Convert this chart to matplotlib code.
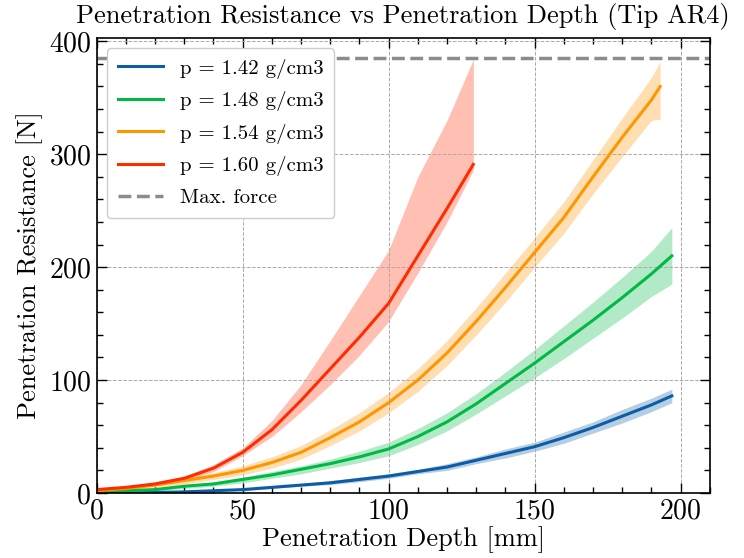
import matplotlib
matplotlib.use("Agg")
import matplotlib.pyplot as plt

# depth [mm] and resistance [N]
depth_142 = [0, 10, 20, 30, 40, 50, 60, 70, 80, 90, 100, 110, 120, 130, 140, 150, 160, 170, 180, 190, 197]
mean_142 = [0, 0, 0.5, 1, 2, 3, 5, 7, 9, 12, 15, 19, 23, 29, 35, 41, 49, 58, 68, 78, 86]
upper_142 = [0.5, 0.5, 1, 1.5, 2.5, 4, 6, 8, 11, 14, 17, 21, 26, 32, 39, 45, 54, 63, 74, 84, 92]
lower_142 = [0, 0, 0, 0.5, 1.5, 2, 4, 6, 7.5, 10, 13, 17, 20, 26, 31, 37, 44, 53, 62, 72, 80]

depth_148 = [0, 10, 20, 30, 40, 50, 60, 70, 80, 90, 100, 110, 120, 130, 140, 150, 160, 170, 180, 190, 197]
mean_148 = [1, 2, 3, 6, 8, 12, 16, 21, 26, 32, 39, 50, 63, 79, 97, 115, 134, 153, 173, 194, 210]
upper_148 = [2, 3, 4, 7, 10, 14, 19, 24, 30, 37, 45, 57, 71, 88, 107, 127, 148, 169, 191, 214, 235]
lower_148 = [0, 1, 2, 4, 6, 9, 13, 17, 22, 27, 33, 43, 55, 70, 86, 102, 119, 137, 155, 174, 185]

depth_154 = [0, 10, 20, 30, 40, 50, 60, 70, 80, 90, 100, 110, 120, 130, 140, 150, 160, 170, 180, 190, 193]
mean_154 = [2, 4, 7, 11, 15, 20, 27, 36, 49, 63, 80, 100, 124, 152, 182, 213, 244, 280, 315, 348, 360]
upper_154 = [3, 5, 9, 13, 18, 24, 32, 42, 56, 71, 89, 110, 135, 164, 195, 226, 258, 295, 332, 368, 382]
lower_154 = [1, 3, 5, 8, 12, 16, 22, 30, 42, 55, 71, 90, 113, 140, 169, 200, 230, 265, 298, 330, 331]

depth_160 = [0, 10, 20, 30, 40, 50, 60, 70, 80, 90, 100, 110, 120, 129]
mean_160 = [3, 5, 8, 13, 22, 36, 56, 82, 110, 138, 168, 210, 252, 291]
upper_160 = [4, 6, 10, 15, 25, 40, 64, 96, 135, 175, 215, 280, 330, 384]
lower_160 = [2, 4, 7, 11, 19, 33, 50, 72, 96, 122, 152, 195, 240, 286]

max_force = 385

series = [
    ("p = 1.42 g/cm3", "#0C5DA5", depth_142, mean_142, upper_142, lower_142),
    ("p = 1.48 g/cm3", "#00B945", depth_148, mean_148, upper_148, lower_148),
    ("p = 1.54 g/cm3", "#FF9500", depth_154, mean_154, upper_154, lower_154),
    ("p = 1.60 g/cm3", "#FF2C00", depth_160, mean_160, upper_160, lower_160),
]

plt.rcParams["font.family"] = ["cmr10", "DejaVu Serif"]
plt.rcParams["mathtext.fontset"] = "cm"
plt.rcParams["axes.formatter.use_mathtext"] = True

fig = plt.figure(figsize=(7.44, 5.58), dpi=100)
ax = fig.add_axes([0.130, 0.1165, 0.824, 0.8155])

for label, color, x, m, up, lo in series:
    ax.fill_between(x, lo, up, color=color, alpha=0.3, linewidth=0)
    ax.plot(x, m, color=color, linewidth=2.2, label=label)

ax.axhline(max_force, color="#8c8c8c", linestyle="--", linewidth=2.5, label="Max. force")

ax.set_xlim(0, 210)
ax.set_ylim(0, 403)
ax.set_xticks([0, 50, 100, 150, 200])
ax.set_yticks([0, 100, 200, 300, 400])
ax.set_xticks(range(0, 211, 10), minor=True)
ax.set_yticks(range(0, 401, 20), minor=True)
ax.tick_params(which="both", direction="in", top=True, right=True, labelsize=20, width=1.0)
ax.tick_params(which="major", length=7, pad=4)
ax.tick_params(which="minor", length=4)
for sp in ax.spines.values():
    sp.set_linewidth(1.2)
ax.grid(True, which="major", linestyle="--", color="#aaaaaa", linewidth=0.7)

ax.set_xlabel("Penetration Depth [mm]", fontsize=19, labelpad=1)
ax.set_ylabel("Penetration Resistance [N]", fontsize=19, labelpad=4)
ax.set_title("Penetration Resistance vs Penetration Depth (Tip AR4)", fontsize=19, pad=11)

leg = ax.legend(loc="upper left", fontsize=15, frameon=True, fancybox=True,
                borderpad=0.5, handlelength=2.2, labelspacing=0.6)
leg.get_frame().set_edgecolor("#cccccc")
leg.get_frame().set_alpha(1.0)

fig.savefig("out.png", dpi=100)
